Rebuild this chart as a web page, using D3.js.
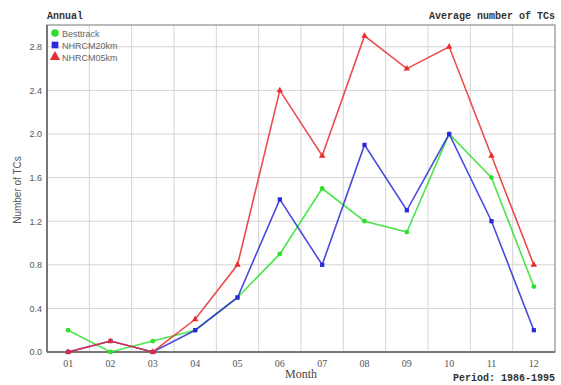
<!DOCTYPE html>
<html><head><meta charset="utf-8">
<script src="https://cdn.jsdelivr.net/npm/d3@7"></script>
<style>body{margin:0;background:#fff}</style>
</head><body>
<script>
const months = ["01","02","03","04","05","06","07","08","09","10","11","12"];
const besttrack = [0.2,0.0,0.1,0.2,0.5,0.9,1.5,1.2,1.1,2.0,1.6,0.6];
const nhrcm20 = [0.0,0.1,0.0,0.2,0.5,1.4,0.8,1.9,1.3,2.0,1.2,0.2];
const nhrcm05 = [0.0,0.1,0.0,0.3,0.8,2.4,1.8,2.9,2.6,2.8,1.8,0.8];
const yTicks = [0.0,0.4,0.8,1.2,1.6,2.0,2.4,2.8];
const seriesNames = ["Besttrack","NHRCM20km","NHRCM05km"];
const colors = ["#2ee02e","#2a2ad8","#e62e2e"];
const shapes = [d3.symbolCircle, d3.symbolSquare, d3.symbolTriangle];

const W=561,H=385;
const m={l:47,r:6,t:25,b:33};
const svg=d3.select("body").append("svg").attr("width",W).attr("height",H);
const x=d3.scaleBand().domain(months).range([m.l,W-m.r]);
const y=d3.scaleLinear().domain([0,3.0]).range([H-m.b,m.t]);

// grid
const g=svg.append("g");
g.selectAll(".vg").data(months.slice(1)).join("line")
 .attr("x1",d=>x(d)).attr("x2",d=>x(d)).attr("y1",m.t).attr("y2",H-m.b)
 .attr("stroke","#d4d4d4").attr("stroke-width",1);
g.selectAll(".hg").data(yTicks.slice(1)).join("line")
 .attr("x1",m.l).attr("x2",W-m.r).attr("y1",d=>y(d)).attr("y2",d=>y(d))
 .attr("stroke","#d4d4d4").attr("stroke-width",1);

// frame
svg.append("rect").attr("x",m.l).attr("y",m.t).attr("width",W-m.r-m.l).attr("height",H-m.b-m.t)
 .attr("fill","none").attr("stroke","#777").attr("stroke-width",1);
svg.append("line").attr("x1",m.l).attr("x2",m.l).attr("y1",m.t).attr("y2",H-m.b).attr("stroke","#777").attr("stroke-width",2);
svg.append("line").attr("x1",m.l).attr("x2",W-m.r).attr("y1",H-m.b).attr("y2",H-m.b).attr("stroke","#777").attr("stroke-width",2);

// axes
const ya=d3.axisLeft(y).tickValues(yTicks).tickFormat(d3.format(".1f")).tickSize(0).tickPadding(5);
const yg=svg.append("g").attr("transform",`translate(${m.l},0)`).call(ya);
yg.select(".domain").remove();
yg.selectAll("text").attr("font-family","Liberation Sans, Arial, sans-serif").attr("font-size",9).attr("fill","#555");

const xa=d3.axisBottom(x).tickSize(0).tickPadding(8);
const xg=svg.append("g").attr("transform",`translate(0,${H-m.b})`).call(xa);
xg.select(".domain").remove();
xg.selectAll("text").attr("font-family","Liberation Serif, Times New Roman, serif").attr("font-size",10).attr("fill","#555");

// series
const all=[besttrack,nhrcm20,nhrcm05];
const line=d3.line().x((d,i)=>x(months[i])+x.bandwidth()/2).y(d=>y(d));
all.forEach((s,k)=>{
  svg.append("path").datum(s).attr("d",line).attr("fill","none").attr("stroke",colors[k]).attr("stroke-width",1.6).attr("stroke-opacity",0.85);
  svg.selectAll(".p"+k).data(s).join("path")
   .attr("transform",(d,i)=>`translate(${x(months[i])+x.bandwidth()/2},${y(d)})`)
   .attr("d",d3.symbol().type(shapes[k]).size(18)).attr("fill",colors[k]);
});

// legend
seriesNames.forEach((n,k)=>{
  const ly=33+k*12;
  svg.append("path").attr("transform",`translate(55,${ly})`).attr("d",d3.symbol().type(shapes[k]).size(45)).attr("fill",colors[k]);
  svg.append("text").attr("x",62).attr("y",ly+3.5).text(n).attr("font-family","Liberation Sans, Arial, sans-serif").attr("font-size",9).attr("fill","#666");
});

// titles
svg.append("text").attr("x",m.l).attr("y",19).text("Annual").attr("font-family","Liberation Mono, Courier New, monospace").attr("font-weight","bold").attr("font-size",10).attr("fill","#333");
svg.append("text").attr("x",W-m.r).attr("y",19).attr("text-anchor","end").text("Average number of TCs").attr("font-family","Liberation Mono, Courier New, monospace").attr("font-weight","bold").attr("font-size",10).attr("fill","#333");
svg.append("text").attr("x",W-m.r).attr("y",381).attr("text-anchor","end").text("Period: 1986-1995").attr("font-family","Liberation Mono, Courier New, monospace").attr("font-weight","bold").attr("font-size",10).attr("fill","#333");
svg.append("text").attr("x",301).attr("y",378).attr("text-anchor","middle").text("Month").attr("font-family","Liberation Serif, Times New Roman, serif").attr("font-size",12).attr("fill","#444");
svg.append("text").attr("transform","translate(21,190) rotate(-90)").attr("text-anchor","middle").text("Number of TCs").attr("font-family","Liberation Sans, Arial, sans-serif").attr("font-size",10).attr("fill","#555");
</script>
</body></html>
